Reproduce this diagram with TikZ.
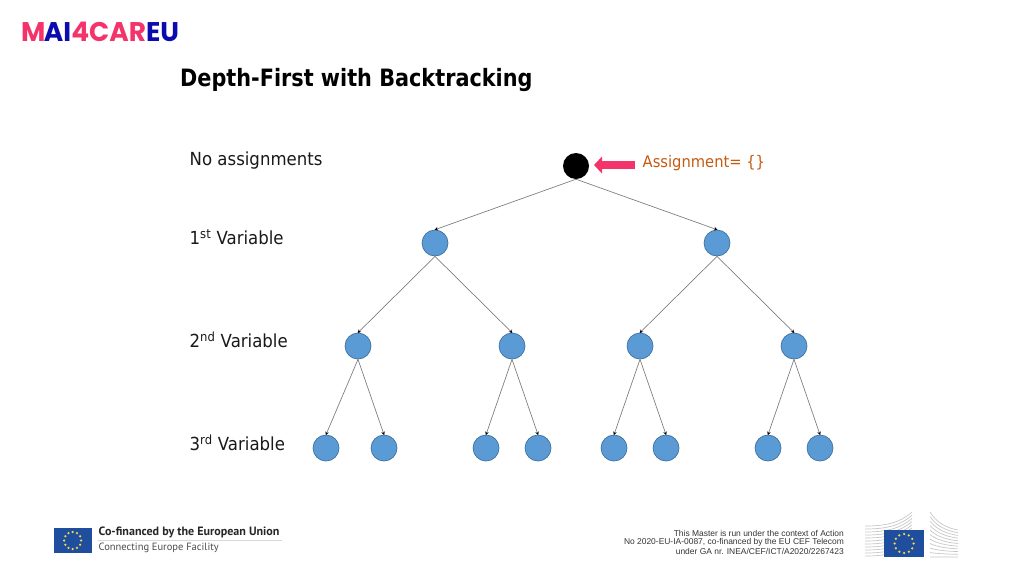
\documentclass[tikz,border=0pt]{standalone}
\usepackage{fontspec}
\setmainfont[FakeStretch=0.92]{DejaVu Sans}
\newfontfamily\titlefont[FakeStretch=0.87]{DejaVu Sans}
\newfontfamily\logofont[FakeStretch=0.98]{Poppins}
\newfontfamily\footfont{Liberation Sans}
\newfontfamily\cofont{PT Sans}
\usetikzlibrary{arrows.meta}
\definecolor{nodeblue}{HTML}{5B9BD5}
\definecolor{nodeline}{HTML}{41719C}
\definecolor{logopink}{HTML}{F5336B}
\definecolor{logoblue}{HTML}{0B0BB0}
\definecolor{assignorange}{HTML}{C55A11}
\definecolor{euflag}{HTML}{1F4E9E}
\definecolor{eustar}{HTML}{F2D64B}
\tikzset{
  varnode/.style={circle,draw=nodeline,fill=nodeblue,line width=.7pt,minimum size=26pt,inner sep=0pt},
  rootnode/.style={circle,fill=black,minimum size=26pt,inner sep=0pt},
  treeedge/.style={draw=gray,line width=.7pt,-{Stealth[black,length=3.5pt,width=3.5pt]},shorten >=-.5pt},
  levellabel/.style={anchor=west,inner sep=0pt,font=\fontsize{18}{20}\selectfont,text=black!90},
  footline/.style={anchor=east,inner sep=0pt,font=\footfont\fontsize{8.45}{9}\selectfont,text=black!80},
  flagrect/.style={fill=euflag,draw=none},
  flagstar/.style={circle,fill=eustar,minimum size=2.5pt,inner sep=0pt},
  stripe/.style={draw=black!22,line width=.7pt}
}
\begin{document}
\begin{tikzpicture}[x=1pt,y=-1pt]
\useasboundingbox (0,0) rectangle (1024,576);
% logo and title
\node (logo) [anchor=west,inner sep=0pt,font=\logofont\bfseries\fontsize{27}{27}\selectfont] at (21,31.5)
  {\textcolor{logopink}{M}\kern-1.5pt\textcolor{logoblue}{AI}\textcolor{logopink}{4CAR}\textcolor{logoblue}{EU}};
\node (title) [anchor=west,inner sep=0pt,font=\titlefont\bfseries\fontsize{23.9}{26}\selectfont] at (180,80) {Depth-First with Backtracking};
% level labels
\node (lab0) [levellabel] at (189.5,161) {No assignments};
\node (lab1) [levellabel] at (189.5,237.5) {1\textsuperscript{st} Variable};
\node (lab2) [levellabel] at (189.5,339.5) {2\textsuperscript{nd} Variable};
\node (lab3) [levellabel] at (189.5,442.5) {3\textsuperscript{rd} Variable};
% tree
\node (root) [rootnode] at (576,166) {};
\node (n1) [varnode] at (435,243) {};
\node (n2) [varnode] at (717,243) {};
\node (n11) [varnode] at (358,346) {};
\node (n12) [varnode] at (512,346) {};
\node (n21) [varnode] at (640,346) {};
\node (n22) [varnode] at (794,346) {};
\node (n111) [varnode] at (326,448) {};
\node (n112) [varnode] at (384,448) {};
\node (n121) [varnode] at (486,448) {};
\node (n122) [varnode] at (538,448) {};
\node (n211) [varnode] at (614,448) {};
\node (n212) [varnode] at (666,448) {};
\node (n221) [varnode] at (768,448) {};
\node (n222) [varnode] at (820,448) {};
\draw[treeedge] (root.south) -- (n1.north);
\draw[treeedge] (root.south) -- (n2.north);
\foreach \p/\a/\b in {n1/n11/n12,n2/n21/n22,n11/n111/n112,n12/n121/n122,n21/n211/n212,n22/n221/n222}{
  \draw[treeedge] (\p.south) -- (\a.north);
  \draw[treeedge] (\p.south) -- (\b.north);
}
% pointer
\node (assign) [anchor=west,inner sep=0pt,text=assignorange,font=\fontsize{16}{19}\selectfont] at (642.5,163) {Assignment= \{\}};
\coordinate (ptrstart) at (635,165);
\coordinate (ptrend) at (594,165);
\draw[line width=8.5pt,draw=logopink,-{Triangle[length=8pt,width=16.5pt]}] (ptrstart) -- (ptrend);
% funding, left
\fill[flagrect] (53.5,528) rectangle (92,553);
\foreach \i in {0,30,...,330}
  \node[flagstar] at ({72.7+8.5*cos(\i)},{540.5+8.5*sin(\i)}) {};
\node (cofin) [anchor=west,inner sep=0pt,font=\cofont\bfseries\fontsize{12.05}{12}\selectfont,text=black!85] at (98.5,532.5) {Co-financed by the European Union};
\draw[black!15,line width=.5pt] (98,540) -- (282,540);
\node (cef) [anchor=west,inner sep=0pt,font=\cofont\fontsize{10.5}{12}\selectfont,text=black!70] at (98.5,548) {Connecting Europe Facility};
% funding, right
\node (foot1) [footline] at (844,533) {This Master is run under the context of Action};
\node (foot2) [footline] at (844,542) {No 2020-EU-IA-0087, co-financed by the EU CEF Telecom};
\node (foot3) [footline] at (844,551) {under GA nr. INEA/CEF/ICT/A2020/2267423};
\foreach \k in {0,1,...,10}{
  \draw[stripe] (865,{526+\k*3}) .. controls (885,{526+\k*3}) and (900,{523+\k*3}) .. (912,{512+\k*3.2});
  \draw[stripe] (930,{512+\k*4.5}) .. controls (936,{522+\k*3.5}) and (946,{528+\k*2.9}) .. (958,{530+\k*2.7});
}
\fill[flagrect] (884,530) rectangle (924,557);
\foreach \i in {0,30,...,330}
  \node[flagstar] at ({904+9.5*cos(\i)},{543.5+9.5*sin(\i)}) {};
\end{tikzpicture}
\end{document}
